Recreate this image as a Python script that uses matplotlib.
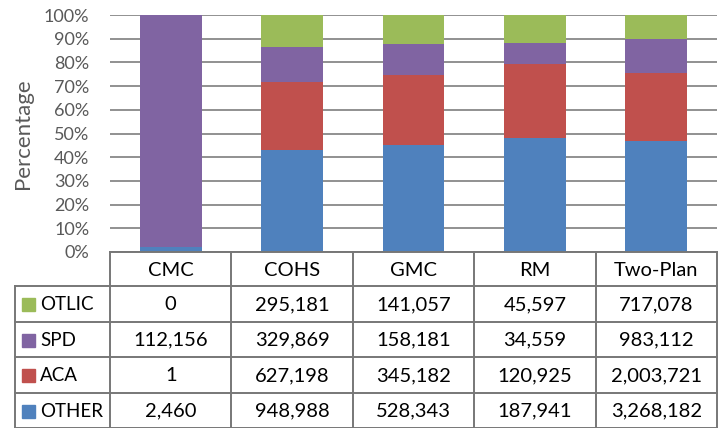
import matplotlib
matplotlib.use("Agg")
import matplotlib.pyplot as plt
from matplotlib.patches import Rectangle
import numpy as np

plt.rcParams['font.family'] = ['Lato', 'DejaVu Sans']

# ---------------------------------------------------------------------------
# Data (counts read from the table)
# ---------------------------------------------------------------------------
plans = ['CMC', 'COHS', 'GMC', 'RM', 'Two-Plan']
series = ['OTHER', 'ACA', 'SPD', 'OTLIC']          # bottom -> top
other = [2460, 948988, 528343, 187941, 3268182]
aca = [1, 627198, 345182, 120925, 2003721]
spd = [112156, 329869, 158181, 34559, 983112]
otlic = [0, 295181, 141057, 45597, 717078]
colors = {'OTHER': '#4F81BD', 'ACA': '#C0504D', 'SPD': '#8064A2', 'OTLIC': '#9BBB59'}

counts = {'OTHER': other, 'ACA': aca, 'SPD': spd, 'OTLIC': otlic}
table_rows = ['OTLIC', 'SPD', 'ACA', 'OTHER']      # top -> bottom in table

# ---------------------------------------------------------------------------
# Figure geometry (pixels of a 719x428 canvas)
# ---------------------------------------------------------------------------
W, H = 719, 428
fig = plt.figure(figsize=(W / 100, H / 100), dpi=100)

x_left, x_right = 110, 717
y_top, y_zero = 15, 252
ax = fig.add_axes([x_left / W, 1 - y_zero / H, (x_right - x_left) / W, (y_zero - y_top) / H])

totals = np.sum([counts[s] for s in series], axis=0).astype(float)
x = np.arange(len(plans))
bottom = np.zeros(len(plans))
for s in series:
    pct = np.array(counts[s]) / totals * 100
    ax.bar(x, pct, 0.51, bottom=bottom, color=colors[s], zorder=3)
    bottom += pct

ax.set_xlim(-0.5, len(plans) - 0.5)
ax.set_ylim(0, 100)
ax.set_yticks(np.arange(0, 101, 10))
ax.set_yticklabels([f'{v}%' for v in range(0, 101, 10)], fontsize=13, color='#595959')
ax.set_xticks([])
ax.tick_params(axis='y', length=0, pad=15)
for sp in ax.spines.values():
    sp.set_visible(False)
ax.yaxis.grid(True, color='#888888', linewidth=1.3, zorder=0)
ax.set_ylabel('Percentage', fontsize=16, color='#595959', labelpad=8)

# ---------------------------------------------------------------------------
# Data table
# ---------------------------------------------------------------------------
t_left = 15
tab = fig.add_axes([0, 0, 1, 1])
tab.set_xlim(0, W)
tab.set_ylim(H, 0)
tab.axis('off')

col_w = (x_right - x_left) / len(plans)
header_h = 34
row_h = (H - y_zero - header_h) / len(table_rows)
line_kw = dict(color='#777777', linewidth=1.4)

# horizontal lines
tab.plot([x_left, x_right], [y_zero, y_zero], **line_kw)
for i in range(len(table_rows) + 1):
    yy = y_zero + header_h + i * row_h
    tab.plot([t_left, x_right], [yy, yy], **line_kw)
# vertical lines
tab.plot([t_left, t_left], [y_zero + header_h, H], **line_kw)
for j in range(len(plans) + 1):
    xx = x_left + j * col_w
    tab.plot([xx, xx], [y_zero, H], **line_kw)

for j, p in enumerate(plans):
    tab.text(x_left + (j + 0.5) * col_w, y_zero + header_h / 2 + 1, p,
             ha='center', va='center', fontsize=14.5, color='black')

for i, s in enumerate(table_rows):
    yc = y_zero + header_h + (i + 0.5) * row_h + 1
    tab.add_patch(Rectangle((22, yc - 6.5), 13, 13, color=colors[s]))
    tab.text(40, yc, s, ha='left', va='center', fontsize=13.5, color='black')
    for j, v in enumerate(counts[s]):
        tab.text(x_left + (j + 0.5) * col_w, yc, f'{v:,}',
                 ha='center', va='center', fontsize=14.5, color='black')

fig.savefig('out.png', dpi=100)
